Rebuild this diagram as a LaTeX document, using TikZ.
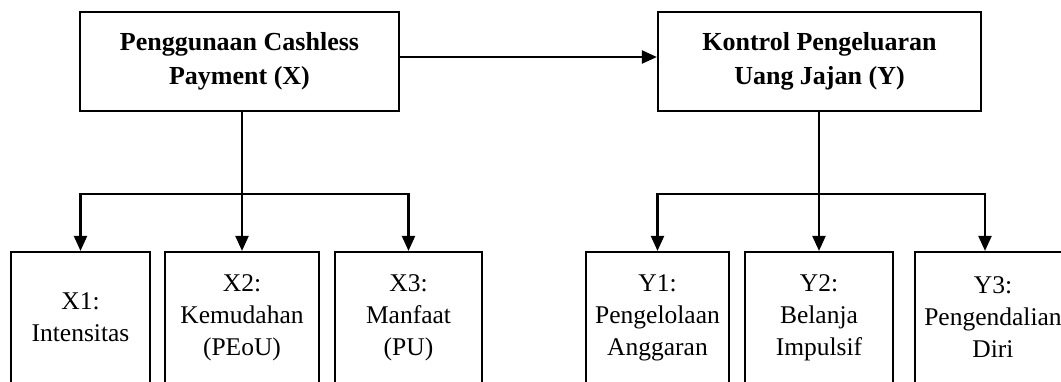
\documentclass[tikz,border=0pt]{standalone}
\usepackage{fontspec}
\setmainfont{Liberation Serif}
\usetikzlibrary{arrows.meta}
\begin{document}
\begin{tikzpicture}[x=1pt,y=-1pt,
  line width=2.2pt,
  topbox/.style={draw, inner sep=0pt, minimum height=99pt, align=center,
    font=\fontsize{26}{34}\selectfont\bfseries},
  subbox/.style={draw, inner sep=0pt, minimum height=131pt, align=center,
    font=\fontsize{25.5}{32}\selectfont},
  arr/.style={-{Triangle[width=13pt,length=15pt]}}]
\useasboundingbox (0,0) rectangle (1061,381);
\fill[white] (0,0) rectangle (1061,381);
% top boxes
\node[topbox, minimum width=319pt] (X) at (239.5,61.5) {Penggunaan Cashless\\Payment (X)};
\node[topbox, minimum width=323pt] (Y) at (819.5,61.5) {Kontrol Pengeluaran\\Uang Jajan (Y)};
% sub boxes
\node[subbox, minimum width=139pt] (X1) at (80.5,317.5) {X1:\\Intensitas};
\node[subbox, minimum width=154pt] (X2) at (242,317.5) {X2:\\Kemudahan\\(PEoU)};
\node[subbox, minimum width=147pt] (X3) at (408.5,317.5) {X3:\\Manfaat\\(PU)};
\node[subbox, minimum width=143pt] (Y1) at (657.5,317.5) {Y1:\\Pengelolaan\\Anggaran};
\node[subbox, minimum width=148pt] (Y2) at (819,317.5) {Y2:\\Belanja\\Impulsif};
\node[subbox, minimum width=156pt] (Y3) at (993,317.5) {Y3:\\Pengendalian\\Diri};
% junctions
\coordinate (xj) at (X2.north |- 0,194);
\coordinate (yj) at (Y2.north |- 0,194);
\coordinate (y3t) at ([xshift=-8pt]Y3.north);
% connectors
\draw[arr] ([yshift=4.5pt]X.east) -- ([yshift=4.5pt]Y.west);
\draw (X.south -| xj) -- (xj);
\draw[arr] (xj) -| (X1.north);
\draw[arr] (xj) -- (X2.north);
\draw[arr] (xj) -| (X3.north);
\draw (Y.south -| yj) -- (yj);
\draw[arr] (yj) -| (Y1.north);
\draw[arr] (yj) -- (Y2.north);
\draw[arr] (yj) -| (y3t);
\end{tikzpicture}
\end{document}
